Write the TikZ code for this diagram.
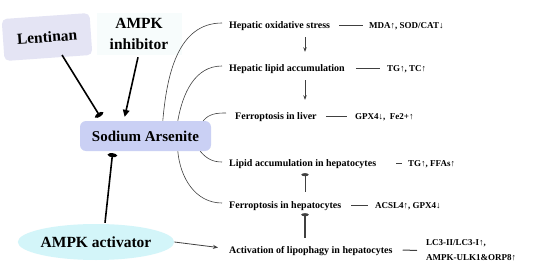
\documentclass[tikz,border=0pt]{standalone}
\usepackage{fontspec}
\setmainfont{Liberation Serif}
\usetikzlibrary{arrows.meta,shapes.geometric,calc}
\definecolor{lentin}{HTML}{E4E4F4}
\definecolor{sabg}{HTML}{CAD0F4}
\definecolor{actbg}{HTML}{D3F5F9}
\definecolor{inhbg}{HTML}{F7FCFC}
\definecolor{lnk}{HTML}{404040}
\begin{document}
\begin{tikzpicture}[x=1pt,y=-1pt,
  big/.style={font=\bfseries\fontsize{15.5}{21}\selectfont},
  lab/.style={font=\bfseries\fontsize{10}{12}\selectfont, anchor=base west, inner sep=0pt, text height=7pt, text depth=2pt},
  res/.style={font=\bfseries\fontsize{9}{11}\selectfont, anchor=base west, inner sep=0pt},
  fan/.style={draw=lnk, line width=0.6pt},
  tie/.style={draw=lnk, line width=0.8pt},
  thick arrow/.style={draw=black, line width=1.6pt},
  stophead/.style={-{Ellipse[length=4pt,width=9pt]}},
  pointhead/.style={-{Triangle[length=7pt,width=6.5pt]}},
  vstep/.style={draw=lnk, line width=0.7pt, -{Stealth[length=4.5pt,width=3.5pt]}},
  vstop/.style={draw=lnk, -{Ellipse[length=3pt,width=7pt]}},
]
\fill[white] (0,0) rectangle (550,276);
\useasboundingbox (0,0) rectangle (550,276);

% left side nodes
\node[fill=lentin, rounded corners=5pt, minimum width=88pt, minimum height=42pt, rotate=4, big] (len) at (47,37) {Lentinan};
\node[fill=inhbg, minimum width=85pt, minimum height=42pt, align=center, big] (inh) at (139,34) {AMPK\\inhibitor};
\node[fill=sabg, rounded corners=6pt, minimum width=131pt, minimum height=30pt, font=\bfseries\fontsize{15}{17}\selectfont] (sa) at (145.5,136) {Sodium Arsenite};
\node[ellipse, fill=actbg, minimum width=142pt, minimum height=36pt, inner sep=0pt, big] (act) at (96,242) {AMPK activator};

% right side items
\node[lab] (o1) at (229,28.5) {Hepatic oxidative stress};
\node[lab] (o2) at (229,71.5) {Hepatic lipid accumulation};
\node[lab] (o3) at (235,119.5) {Ferroptosis in liver};
\node[lab] (o4) at (229,166.5) {Lipid accumulation in hepatocytes};
\node[lab] (o5) at (229,208.5) {Ferroptosis in hepatocytes};
\node[lab] (o6) at (229,253.5) {Activation of lipophagy in hepatocytes};

\node[res] (r1) at (369,28.5) {MDA↑, SOD/CAT↓};
\node[res] (r2) at (387,71.5) {TG↑, TC↑};
\node[res] (r3) at (355,119.5) {GPX4↓,\enspace Fe2+↑};
\node[res] (r4) at (408,166.5) {TG↑, FFAs↑};
\node[res] (r5) at (375,208.5) {ACSL4↑, GPX4↓};
\node[font=\bfseries\fontsize{9}{15}\selectfont, align=left, anchor=west, inner sep=0pt] (r6) at (426,250.5) {LC3-II/LC3-I↑,\\AMPK-ULK1\&ORP8↑};

% thick arrows into Sodium Arsenite
\draw[thick arrow, stophead, shorten >=5pt] ($(len.center)+(15,18)$) -- ($(sa.north west)+(23,0)$);
\draw[thick arrow, pointhead, shorten >=4pt] ($(inh.south)+(-1,2)$) -- ($(sa.north west)+(44,0)$);
\draw[thick arrow, stophead, shorten >=2pt] ($(act.north)+(9,-1)$) -- ($(sa.south west)+(33,0)$);

% fan of curves
\draw[fan] ($(sa.north west)+(83,0)$) to[out=85,in=180] ($(o1.base west)+(-7,-5.5)$);
\draw[fan] ($(sa.north west)+(98,0)$) to[out=80,in=180] ($(o2.base west)+(-7,-5.5)$);
\draw[fan] ($(sa.north east)+(-8,0)$) to[out=50,in=180] ($(o3.base west)+(-9,-6.5)$);
\draw[fan] ($(sa.south east)+(-11,0)$) to[out=-50,in=180] ($(o4.base west)+(-7,-4.5)$);
\draw[fan] ($(sa.south west)+(98,0)$) to[out=-85,in=180] ($(o5.base west)+(-7,-5.5)$);

% activator to lipophagy
\draw[draw=lnk, line width=0.8pt, -{Stealth[length=5pt,width=4pt]}] (act.east) -- ($(o6.base west)+(-11,-6)$);

% tie lines to results
\draw[tie] ($(o1.base east)+(9,-3.5)$) -- ($(r1.base west)+(-6,-3.5)$);
\draw[tie] ($(o2.base east)+(11,-3.5)$) -- ($(r2.base west)+(-7,-3.5)$);
\draw[tie] ($(o3.base east)+(9,-3.5)$) -- ($(r3.base west)+(-8,-3.5)$);
\draw[tie] ($(o4.base east)+(20,-3.5)$) -- ($(r4.base west)+(-6,-3.5)$);
\draw[tie] ($(o5.base east)+(10,-3.5)$) -- ($(r5.base west)+(-7,-3.5)$);
\draw[tie, line width=1pt] ($(o6.base east)+(10,-3.5)$) -- ($(r6.west)+(-9,0)$);

% vertical connectors
\coordinate (xv) at (305,0);
\draw[vstep, shorten <=6.5pt, shorten >=12.5pt] (o1.south -| xv) -- (o2.north -| xv);
\draw[vstep, shorten <=6.5pt, shorten >=12.5pt] (o2.south -| xv) -- (o3.north -| xv);
\draw[vstop, line width=0.9pt, shorten <=9.5pt, shorten >=4.5pt] (o5.north -| xv) -- (o4.south -| xv);
\draw[vstop, line width=1.3pt, shorten <=8.5pt, shorten >=2.5pt] (o6.north -| xv) -- (o5.south -| xv);
\end{tikzpicture}
\end{document}
